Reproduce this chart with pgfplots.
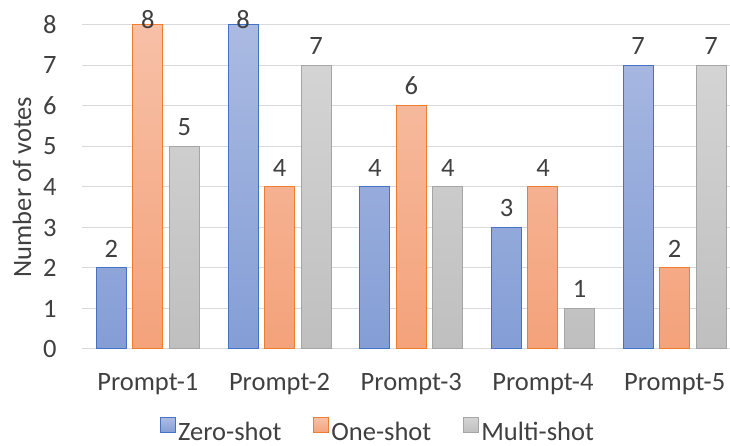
\documentclass[border=0pt]{standalone}
\usepackage{pgfplots}
\pgfplotsset{compat=1.18}
\usepackage{fontspec}
\setmainfont{Carlito}
\definecolor{txt}{RGB}{64,64,64}
\definecolor{gridc}{RGB}{217,217,217}
\definecolor{blueD}{RGB}{68,114,196}
\definecolor{blueT}{RGB}{170,186,226}
\definecolor{blueB}{RGB}{132,158,214}
\definecolor{orD}{RGB}{237,125,49}
\definecolor{orT}{RGB}{247,192,167}
\definecolor{orB}{RGB}{244,162,122}
\definecolor{grD}{RGB}{165,165,165}
\definecolor{grT}{RGB}{212,212,212}
\definecolor{grB}{RGB}{191,191,191}
\newcommand{\bigf}{\fontsize{26.5}{31}\selectfont}
\begin{document}
\begin{tikzpicture}
\useasboundingbox (-82pt,-97pt) rectangle (648pt,349pt);
\begin{axis}[
  scale only axis, width=648pt, height=324pt,
  xmin=-0.5, xmax=4.42, ymin=0, ymax=8,
  enlargelimits=false, clip=false,
  ybar=6.5pt, bar width=30pt,
  xtick={0,1,2,3,4},
  xticklabels={Prompt-1,Prompt-2,Prompt-3,Prompt-4,Prompt-5},
  ytick={0,1,2,3,4,5,6,7,8},
  ymajorgrids, grid style={draw=gridc, line width=1pt},
  axis line style={draw=none},
  major tick length=0pt,
  tick label style={font=\bigf, text=txt},
  /pgf/number format/assume math mode=true,
  yticklabel style={xshift=-22pt},
  xticklabel style={yshift=-21pt},
  every axis y label/.style={at={(axis description cs:0,0.5)}, xshift=-60pt, rotate=90, anchor=center, font=\bigf, text=txt},
  ylabel={Number of votes},
  nodes near coords,
  visualization depends on={y \as \rawy},
  every node near coord/.append style={font=\bigf, text=txt, yshift={(\rawy>7.5)*(-15)+7}},
  legend columns=-1,
  legend style={draw=none, fill=none, inner sep=0pt, at={(axis description cs:0,0)}, anchor=south west, xshift=78pt, yshift=-95pt, font=\bigf, text=txt, nodes={inner sep=2pt},
    /tikz/every even column/.append style={column sep=30pt}},
  legend cell align=left,
  legend image code/.code={\draw[#1] (0pt,-1pt) rectangle (15pt,14pt);},
]
\addplot[draw=blueD, line width=1pt, top color=blueT, bottom color=blueB] coordinates {(0,2) (1,8) (2,4) (3,3) (4,7)};
\addplot[draw=orD, line width=1pt, top color=orT, bottom color=orB] coordinates {(0,8) (1,4) (2,6) (3,4) (4,2)};
\addplot[draw=grD, line width=1pt, top color=grT, bottom color=grB] coordinates {(0,5) (1,7) (2,4) (3,1) (4,7)};
\addlegendentry{Zero-shot}
\addlegendentry{One-shot}
\addlegendentry{Multi-shot}
\end{axis}
\end{tikzpicture}
\end{document}
